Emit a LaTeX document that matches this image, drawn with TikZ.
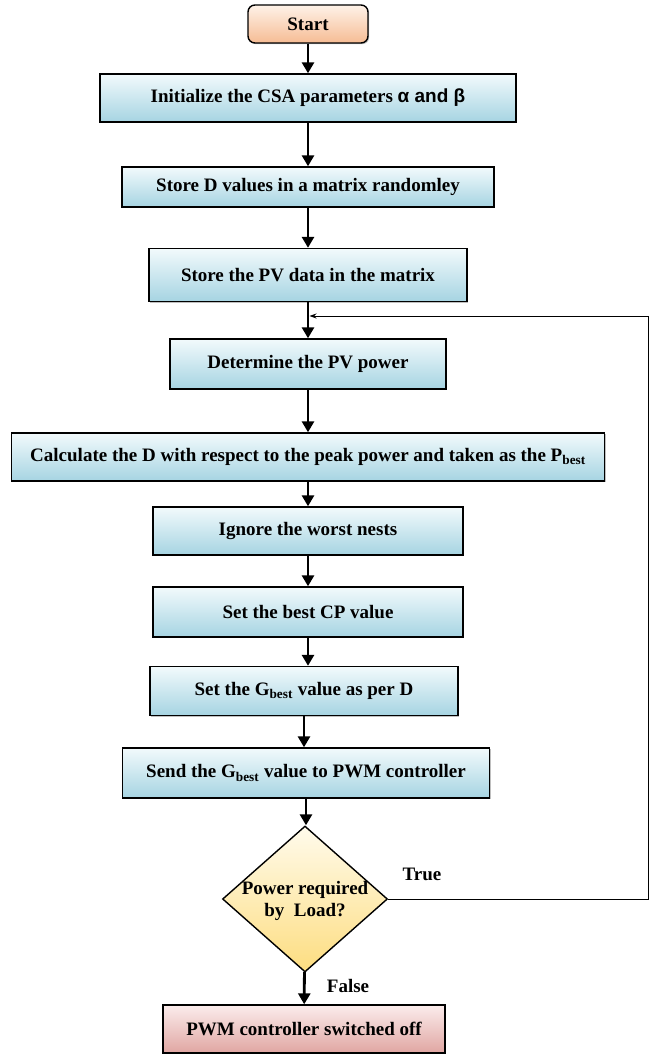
\documentclass[tikz,border=0pt]{standalone}
\usepackage{fontspec}
\setmainfont{Liberation Serif}
\newfontfamily\greekfont{Liberation Sans}
\usepackage{tikz}
\usetikzlibrary{arrows.meta,shapes.geometric,shadows,positioning,calc}
\definecolor{boxtop}{RGB}{242,250,252}
\definecolor{boxbot}{RGB}{166,212,226}
\definecolor{starttop}{RGB}{254,242,232}
\definecolor{startbot}{RGB}{246,188,148}
\definecolor{dectop}{RGB}{255,251,236}
\definecolor{decbot}{RGB}{253,221,128}
\definecolor{offtop}{RGB}{251,236,236}
\definecolor{offbot}{RGB}{224,166,162}
\begin{document}
\begin{tikzpicture}[x=1pt,y=-1pt,
    font=\fontsize{19}{21}\selectfont\bfseries,
    stepbox/.style={rectangle,draw,line width=1.4pt,top color=boxtop,bottom color=boxbot,
      minimum height=48pt,inner sep=0pt,
      drop shadow={shadow xshift=1.2pt,shadow yshift=-1.2pt,opacity=.5}},
    startbox/.style={stepbox,rounded corners=7pt,top color=starttop,bottom color=startbot},
    offbox/.style={stepbox,top color=offtop,bottom color=offbot},
    decbox/.style={diamond,draw,line width=1.4pt,top color=dectop,bottom color=decbot,
      minimum width=165pt,minimum height=146pt,inner sep=0pt},
    flow/.style={line width=2.8pt,-{Triangle[length=11pt,width=12pt]}},
    back/.style={line width=0.9pt,-{Stealth[length=7pt,width=5pt]}}]
  \useasboundingbox (0,0) rectangle (655,1057);
  \node[startbox,minimum width=120pt,minimum height=38pt] at (308,24) (start) {Start};
  \node[stepbox,minimum width=416pt] at (308,98) (init) {Initialize the CSA parameters {\greekfont α and β}};
  \node[stepbox,minimum width=372pt,minimum height=40pt] at (308,187) (storeD) {Store D values in a matrix randomley};
  \node[stepbox,minimum width=318pt,minimum height=53pt] at (308,275) (storePV) {Store the PV data in the matrix};
  \node[stepbox,minimum width=276pt,minimum height=50pt] at (308,364) (power) {Determine the PV power};
  \node[stepbox,minimum width=593pt] at (308,457) (calc) {Calculate the D with respect to the peak power and taken as the P\textsubscript{best}};
  \node[stepbox,minimum width=310pt] at (308,531) (ignore) {Ignore the worst nests};
  \node[stepbox,minimum width=310pt,minimum height=50pt] at (308,612) (bestCP) {Set the best CP value};
  \node[stepbox,minimum width=308pt,minimum height=49pt] at (304,691) (gbest) {Set the G\textsubscript{best} value as per D};
  \node[stepbox,minimum width=367pt,minimum height=50pt] at (306,773) (send) {Send the G\textsubscript{best} value to PWM controller};
  \node[decbox] at (305,899) (load) {};
  \node[align=center,inner sep=0pt] at (305,901) (loadtext) {Power required\\[1pt]by~ Load?};
  \node[offbox,minimum width=282pt] at (304,1029) (off) {PWM controller switched off};
  \node at (422,874) (true) {True};
  \node at (348,986) (false) {False};
  \coordinate (join) at (308,316);
  \coordinate (corner) at (648,899);
  \draw[flow] (start)--(init);
  \draw[flow] (init)--(storeD);
  \draw[flow] (storeD)--(storePV);
  \draw[flow] (storePV)--(power);
  \draw[flow] (power)--(calc);
  \draw[flow] (calc)--(ignore);
  \draw[flow] (ignore)--(bestCP);
  \draw[flow] (bestCP.south)--(bestCP.south|-gbest.north);
  \draw[flow] (gbest.south)--(gbest.south|-send.north);
  \draw[flow] (send.south)--(send.south|-load.north);
  \draw[flow] (load)--(off);
  \draw[back] (load.east)--(corner)|-([xshift=1.5pt]join);
\end{tikzpicture}
\end{document}
